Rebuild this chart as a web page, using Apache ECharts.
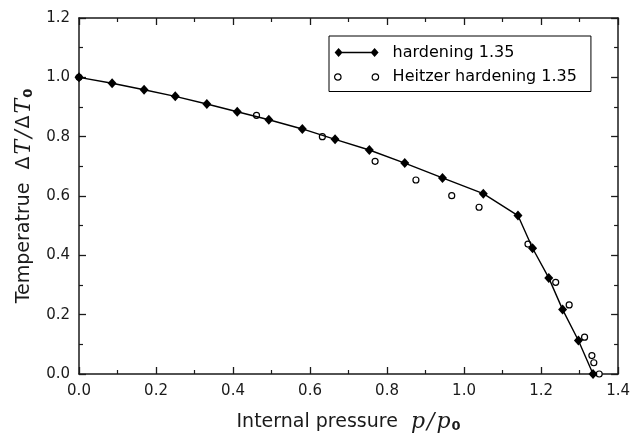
<!DOCTYPE html>
<html>
<head>
<meta charset="utf-8">
<script src="https://cdn.jsdelivr.net/npm/echarts@6/dist/echarts.min.js"></script>
<style>html,body{margin:0;padding:0;background:#fff;}#c{width:633px;height:438px;}</style>
</head>
<body>
<div id="c"></div>
<script>
// Hardening 1.35 (filled diamonds, line)
var hardP = [0, 0.086, 0.169, 0.250, 0.332, 0.411, 0.493, 0.580, 0.665, 0.754, 0.846, 0.944, 1.050, 1.140, 1.178, 1.220, 1.256, 1.297, 1.335];
var hardT = [1.0, 0.980, 0.958, 0.936, 0.910, 0.884, 0.857, 0.826, 0.791, 0.755, 0.711, 0.661, 0.608, 0.534, 0.424, 0.324, 0.217, 0.113, 0.0];
// Heitzer hardening 1.35 (open circles)
var heitzerP = [0, 0.461, 0.632, 0.769, 0.875, 0.968, 1.039, 1.166, 1.238, 1.273, 1.313, 1.332, 1.337, 1.351];
var heitzerT = [1.0, 0.872, 0.800, 0.717, 0.654, 0.601, 0.562, 0.438, 0.309, 0.233, 0.124, 0.062, 0.038, 0.0];
// Axis ticks
var xTicks = [0.0, 0.2, 0.4, 0.6, 0.8, 1.0, 1.2, 1.4];
var yTicks = [0.0, 0.2, 0.4, 0.6, 0.8, 1.0, 1.2];
var seriesNames = ['hardening 1.35', 'Heitzer hardening 1.35'];

function zip(a, b) { return a.map(function (v, i) { return [v, b[i]]; }); }

var SANS = 'DejaVu Sans';
var SERIF = 'DejaVu Serif';
var INK = '#1a1a1a';

var diamondIcon = 'path://M0 4.5 L4 0 L8 4.5 L4 9 Z M36 4.5 L40 0 L44 4.5 L40 9 Z M4 3.8 L40 3.8 L40 5.2 L4 5.2 Z';
var ringIcon = 'path://M0 3 A3 3 0 1 1 6 3 A3 3 0 1 1 0 3 Z M35 3 A3 3 0 1 1 41 3 A3 3 0 1 1 35 3 Z';

var nameRich = {
  i: { fontFamily: SERIF, fontStyle: 'italic', fontSize: 22, color: INK, padding: [0, 1, 0, 1] },
  n: { fontFamily: SERIF, fontStyle: 'italic', fontSize: 22, color: INK, padding: [0, 1, 0, 1] },
  d: { fontFamily: SANS, fontSize: 19, color: INK, padding: [0, 1, 0, 1] },
  s: { fontFamily: SANS, fontSize: 13, fontWeight: 'bold', color: INK, verticalAlign: 'bottom' }
};

function axisCommon(extra) {
  var base = {
    type: 'value',
    axisLine: { show: true, onZero: false, lineStyle: { color: INK, width: 1.5 } },
    axisTick: { show: true, inside: true, length: 7, lineStyle: { color: INK, width: 1.3 } },
    minorTick: { show: true, splitNumber: 2, length: 4, lineStyle: { color: INK, width: 1.2 } },
    splitLine: { show: false },
    minorSplitLine: { show: false }
  };
  for (var k in extra) base[k] = extra[k];
  return base;
}

var chart = echarts.init(document.getElementById('c'), null, { renderer: 'canvas' });
chart.setOption({
  backgroundColor: '#fff',
  animation: false,
  grid: { left: 79, right: 14, top: 18, bottom: 62, containLabel: false },
  legend: {
    left: 329, top: 36,
    orient: 'vertical',
    borderColor: '#000', borderWidth: 1,
    padding: [8, 14, 6, 5],
    itemGap: 7.5,
    itemWidth: 44, itemHeight: 9,
    symbolKeepAspect: true,
    textStyle: { fontFamily: SANS, fontSize: 16, color: '#000', lineHeight: 17, padding: [0, 0, 0, 9] },
    data: [
      { name: seriesNames[0], icon: diamondIcon, itemStyle: { color: '#000', borderWidth: 0 } },
      { name: seriesNames[1], icon: ringIcon, itemStyle: { color: '#fff', borderColor: '#000', borderWidth: 1.2 } }
    ]
  },
  xAxis: [
    axisCommon({
      position: 'bottom', min: xTicks[0], max: xTicks[xTicks.length - 1], interval: 0.2,
      axisLabel: { margin: 10, fontFamily: SANS, fontSize: 15, color: INK, formatter: function (v) { return v.toFixed(1); } },
      name: 'Internal pressure  {i|p}{n|/}{i|p}{s|0}',
      nameLocation: 'middle', nameGap: 37,
      nameTextStyle: { fontFamily: SANS, fontSize: 19, color: INK, rich: nameRich }
    }),
    axisCommon({
      position: 'top', min: xTicks[0], max: xTicks[xTicks.length - 1], interval: 0.2,
      axisLabel: { show: false }
    })
  ],
  yAxis: [
    axisCommon({
      position: 'left', min: yTicks[0], max: yTicks[yTicks.length - 1], interval: 0.2,
      axisLabel: { margin: 9, fontFamily: SANS, fontSize: 15, color: INK, formatter: function (v) { return v.toFixed(1); } },
      name: 'Temperatrue  {d|Δ}{i|T}{n|/}{d|Δ}{i|T}{s|0}',
      nameLocation: 'middle', nameGap: 44,
      nameTextStyle: { fontFamily: SANS, fontSize: 19, color: INK, rich: nameRich }
    }),
    axisCommon({
      position: 'right', min: yTicks[0], max: yTicks[yTicks.length - 1], interval: 0.2,
      axisLabel: { show: false }
    })
  ],
  series: [
    {
      name: seriesNames[1],
      type: 'scatter',
      xAxisIndex: 0, yAxisIndex: 0,
      data: zip(heitzerP, heitzerT),
      symbol: 'circle', symbolSize: 6,
      clip: false,
      itemStyle: { color: '#fff', borderColor: '#000', borderWidth: 1.2, opacity: 1 },
      z: 2
    },
    {
      name: seriesNames[0],
      type: 'line',
      xAxisIndex: 0, yAxisIndex: 0,
      data: zip(hardP, hardT),
      symbol: 'diamond', symbolSize: [9, 10],
      showAllSymbol: true,
      clip: false,
      lineStyle: { color: '#000', width: 1.4 },
      itemStyle: { color: '#000', borderWidth: 0 },
      z: 3
    }
  ]
});
</script>
</body>
</html>
